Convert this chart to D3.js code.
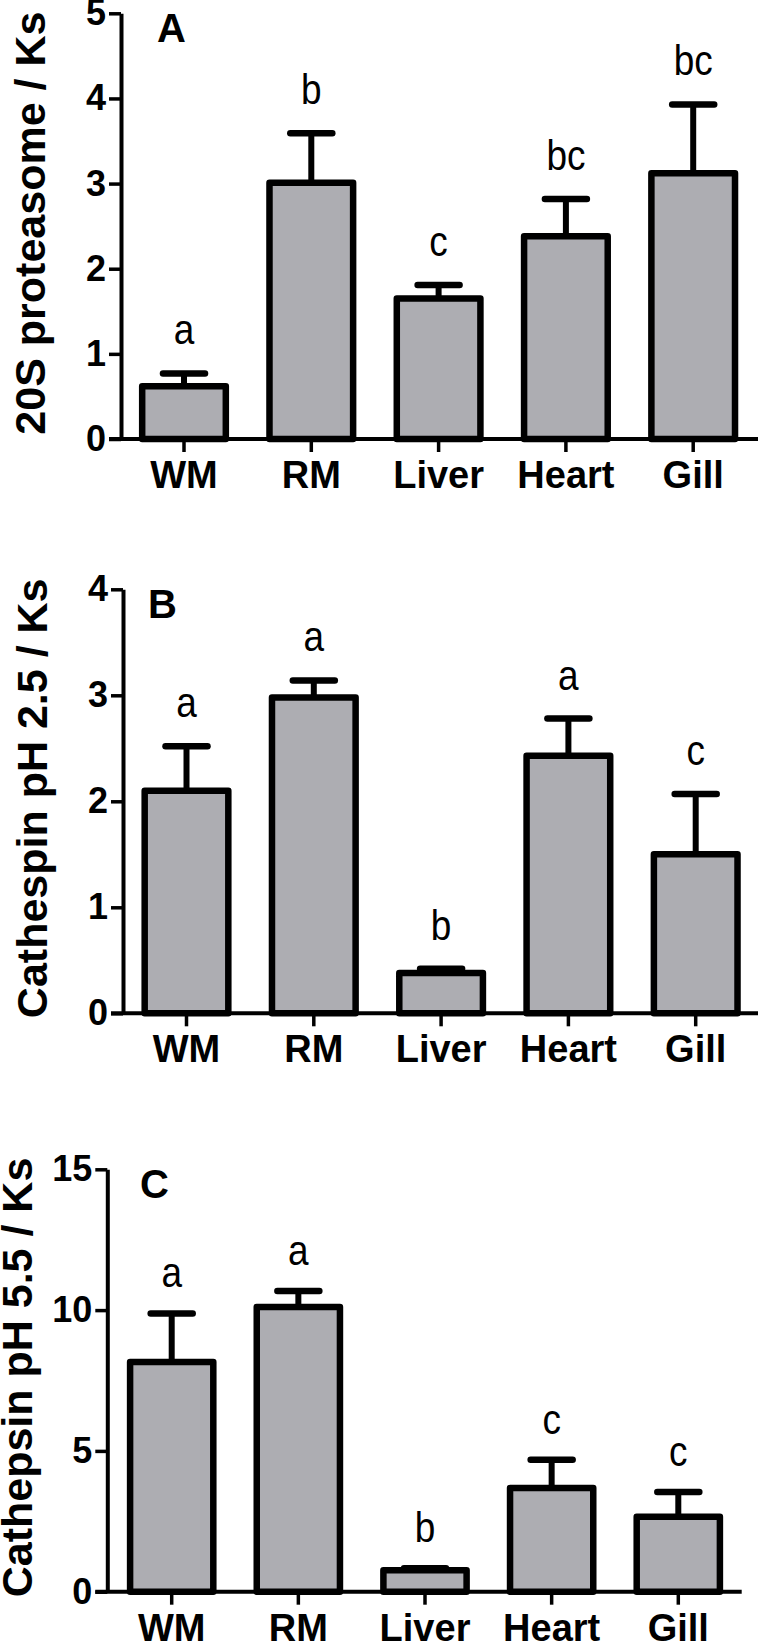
<!DOCTYPE html>
<html>
<head>
<meta charset="utf-8">
<script src="https://cdn.jsdelivr.net/npm/d3@7"></script>
<style>
  body { margin: 0; background: #fff; }
  svg { display: block; }
  text { font-family: 'Liberation Sans', Arial, sans-serif; }
</style>
</head>
<body>
<div id="chart"></div>
<script>
// tissues, same for all three panels
var categories = ['WM', 'RM', 'Liver', 'Heart', 'Gill'];

// A - 20S proteasome
var proteasomeMean    = [0.62, 3.01, 1.65, 2.38, 3.12];
var proteasomeSem     = [0.15, 0.58, 0.16, 0.44, 0.81];
var proteasomeLetters = ['a', 'b', 'c', 'bc', 'bc'];
var proteasomeTicks   = [0, 1, 2, 3, 4, 5];

// B - cathepsin pH 2.5
var cath25Mean    = [2.10, 2.98, 0.38, 2.43, 1.50];
var cath25Sem     = [0.42, 0.16, 0.04, 0.35, 0.57];
var cath25Letters = ['a', 'a', 'b', 'a', 'c'];
var cath25Ticks   = [0, 1, 2, 3, 4];

// C - cathepsin pH 5.5
var cath55Mean    = [8.16, 10.11, 0.76, 3.68, 2.66];
var cath55Sem     = [1.72, 0.57, 0.07, 1.01, 0.88];
var cath55Letters = ['a', 'a', 'b', 'c', 'c'];
var cath55Ticks   = [0, 5, 10, 15];

var width  = 760,
    height = 1643,
    barFill = '#adadb2',
    pad = 0.343;

var panels = [
  { mean: proteasomeMean, sem: proteasomeSem, letters: proteasomeLetters, ticks: proteasomeTicks,
    title: '20S proteasome / Ks', tag: 'A',
    axisX: 121, y0: 439, yTop: 13.3, xEnd: 758, firstCenter: 184, step: 127.3,
    titleX: 45, tagX: 157, gap: 29 },
  { mean: cath25Mean, sem: cath25Sem, letters: cath25Letters, ticks: cath25Ticks,
    title: 'Cathespin pH 2.5 / Ks', tag: 'B',
    axisX: 123, y0: 1013.3, yTop: 589.3, xEnd: 758, firstCenter: 186.5, step: 127.3,
    titleX: 47, tagX: 148, gap: 29 },
  { mean: cath55Mean, sem: cath55Sem, letters: cath55Letters, ticks: cath55Ticks,
    title: 'Cathepsin pH 5.5 / Ks', tag: 'C',
    axisX: 107.3, y0: 1591.7, yTop: 1169.3, xEnd: 741.7, firstCenter: 171.7, step: 126.65,
    titleX: 32, tagX: 140, gap: 26 }
];

var svg = d3.select('#chart').append('svg')
    .attr('width', width)
    .attr('height', height)
    .style('background', '#fff');

panels.forEach(function(p) {
  var g = svg.append('g');

  var yScale = d3.scaleLinear()
      .domain([0, d3.max(p.ticks)])
      .range([p.y0, p.yTop]);

  var r0 = p.firstCenter - p.step / 2;
  var xScale = d3.scaleBand()
      .domain(categories)
      .range([r0, r0 + p.step * categories.length])
      .paddingInner(pad)
      .paddingOuter(pad / 2);

  var rows = categories.map(function(c, i) {
    return { cat: c, mean: p.mean[i], sem: p.sem[i], letter: p.letters[i] };
  });

  function cx(d) { return xScale(d.cat) + xScale.bandwidth() / 2; }

  // error bars (upper only)
  var eb = g.selectAll('.err').data(rows).enter().append('g');
  eb.append('line')
      .attr('x1', cx)
      .attr('x2', cx)
      .attr('y1', function(d) { return yScale(d.mean); })
      .attr('y2', function(d) { return yScale(d.mean + d.sem); })
      .attr('stroke', '#000')
      .attr('stroke-width', 6);
  eb.append('line')
      .attr('x1', function(d) { return cx(d) - 21; })
      .attr('x2', function(d) { return cx(d) + 21; })
      .attr('y1', function(d) { return yScale(d.mean + d.sem); })
      .attr('y2', function(d) { return yScale(d.mean + d.sem); })
      .attr('stroke', '#000')
      .attr('stroke-width', 6.5)
      .attr('stroke-linecap', 'round');

  // bars
  g.selectAll('rect').data(rows)
    .enter().append('rect')
      .attr('x', function(d) { return xScale(d.cat); })
      .attr('width', xScale.bandwidth())
      .attr('y', function(d) { return yScale(d.mean); })
      .attr('height', function(d) { return yScale(0) - yScale(d.mean); })
      .style('fill', barFill)
      .attr('stroke', '#000')
      .attr('stroke-width', 6.5)
      .attr('stroke-linejoin', 'round');

  // significance letters (narrow, like the original)
  g.selectAll('.letter').data(rows)
    .enter().append('text')
      .attr('transform', function(d) {
        return 'translate(' + cx(d) + ',' + (yScale(d.mean + d.sem) - p.gap) + ') scale(0.88,1)';
      })
      .attr('text-anchor', 'middle')
      .style('font-size', '42px')
      .text(function(d) { return d.letter; });

  // y axis
  var yAxis = g.append('g')
      .attr('transform', 'translate(' + p.axisX + ',0)')
      .call(d3.axisLeft(yScale).tickValues(p.ticks).tickFormat(d3.format('d'))
        .tickSize(12).tickSizeOuter(0).tickPadding(3));
  yAxis.select('.domain').attr('stroke-width', 4);
  yAxis.selectAll('.tick line').attr('stroke-width', 3.5);
  yAxis.selectAll('.tick text')
      .style('font-size', '36px')
      .style('font-weight', 'bold')
      .style('font-family', "'Liberation Sans', Arial, sans-serif")
      .attr('fill', '#000');

  // x axis
  var xAxis = g.append('g')
      .attr('transform', 'translate(0,' + p.y0 + ')')
      .call(d3.axisBottom(xScale).tickSize(13).tickSizeOuter(0).tickPadding(9));
  xAxis.select('.domain').remove();
  xAxis.selectAll('.tick line').attr('stroke-width', 3.5);
  xAxis.selectAll('.tick text')
      .style('font-size', '38px')
      .style('font-weight', 'bold')
      .style('font-family', "'Liberation Sans', Arial, sans-serif")
      .attr('fill', '#000');
  g.append('line')
      .attr('x1', p.axisX - 12)
      .attr('x2', p.xEnd)
      .attr('y1', p.y0)
      .attr('y2', p.y0)
      .attr('stroke', '#000')
      .attr('stroke-width', 4);

  // axis title
  g.append('text')
      .attr('transform', 'translate(' + p.titleX + ',' + ((p.y0 + p.yTop) / 2 - 3) + ') rotate(-90)')
      .attr('text-anchor', 'middle')
      .style('font-size', '43px')
      .style('font-weight', 'bold')
      .text(p.title);

  // panel tag
  g.append('text')
      .attr('x', p.tagX)
      .attr('y', p.yTop + 29)
      .style('font-size', '40px')
      .style('font-weight', 'bold')
      .text(p.tag);
});
</script>
</body>
</html>
